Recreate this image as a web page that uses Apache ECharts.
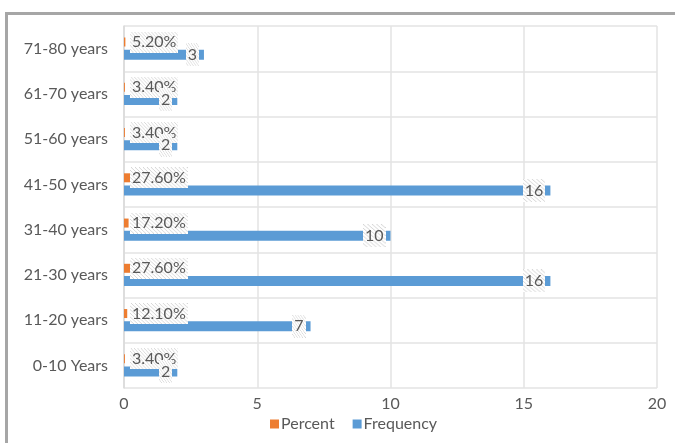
<!DOCTYPE html>
<html>
<head>
<meta charset="utf-8">
<script src="https://cdn.jsdelivr.net/npm/echarts@6/dist/echarts.min.js"></script>
<style>
  html, body { margin: 0; padding: 0; background: #fff; }
  #main { width: 675px; height: 443px; }
</style>
</head>
<body>
<div id="main"></div>
<script>
const ageGroups = ['0-10 Years', '11-20 years', '21-30 years', '31-40 years', '41-50 years', '51-60 years', '61-70 years', '71-80 years']
const percentValues = [0.034, 0.121, 0.276, 0.172, 0.276, 0.034, 0.034, 0.052]
const frequencyValues = [2, 7, 16, 10, 16, 2, 2, 3]
const xTicks = [0, 5, 10, 15, 20]

// hatched label background, like the excel data label fill
// (the image gets stretched to the label box, so size it close to the box)
function hatch (w, h) {
  const c = document.createElement('canvas')
  c.width = w
  c.height = h
  const ctx = c.getContext('2d')
  ctx.fillStyle = '#ffffff'
  ctx.fillRect(0, 0, w, h)
  ctx.strokeStyle = '#d6d6d6'
  ctx.lineWidth = 1
  ctx.beginPath()
  for (let x = -h; x < w + h; x += 4) {
    ctx.moveTo(x, 0)
    ctx.lineTo(x + h, h)
  }
  ctx.stroke()
  return c
}
const font = 'Lato'
const txt = '#595959'

const chart = echarts.init(document.getElementById('main'))
chart.setOption({
  animation: false,
  textStyle: { fontFamily: font },
  graphic: [
    { type: 'rect', shape: { x: 5, y: 12, width: 670, height: 3 }, style: { fill: '#a6a6a6' } },
    { type: 'rect', shape: { x: 5, y: 12, width: 3, height: 431 }, style: { fill: '#a6a6a6' } }
  ],
  grid: { left: 124, right: 18, top: 26, bottom: 55, containLabel: false },
  legend: {
    data: ['Percent', 'Frequency'],
    bottom: 6,
    left: 265,
    icon: 'rect',
    itemWidth: 9,
    itemHeight: 9,
    itemGap: 18,
    textStyle: { color: txt, fontSize: 16, fontFamily: font, padding: [0, 0, 0, -3] }
  },
  xAxis: {
    type: 'value',
    min: xTicks[0],
    max: xTicks[xTicks.length - 1],
    interval: 5,
    axisLine: { show: false },
    axisTick: { show: false },
    axisLabel: { color: txt, fontSize: 16, margin: 8 },
    splitLine: { lineStyle: { color: '#e3e3e3', width: 1.5 } }
  },
  yAxis: {
    type: 'category',
    data: ageGroups,
    axisLine: { lineStyle: { color: '#d9d9d9', width: 1.5 } },
    axisTick: { show: true, length: 0 },
    axisLabel: { color: txt, fontSize: 16, margin: 16 },
    splitLine: { show: true, lineStyle: { color: '#e3e3e3', width: 1.5 } }
  },
  series: [
    {
      name: 'Percent',
      type: 'bar',
      data: percentValues,
      barWidth: 9,
      barGap: '35%',
      itemStyle: { color: '#ed7d31' },
      label: {
        show: true,
        position: 'insideLeft',
        distance: 6,
        color: txt,
        fontSize: 16,
        padding: [3, 2, 2, 2],
        backgroundColor: { image: hatch(58, 23) },
        formatter: p => (p.value * 100).toFixed(2) + '%'
      }
    },
    {
      name: 'Frequency',
      type: 'bar',
      data: frequencyValues,
      barWidth: 10,
      itemStyle: { color: '#5b9bd5' },
      label: {
        show: true,
        position: 'insideRight',
        distance: 5,
        color: txt,
        fontSize: 16,
        padding: [4, 2, 3, 2],
        backgroundColor: { image: hatch(20, 24) }
      }
    }
  ]
})
</script>
</body>
</html>
